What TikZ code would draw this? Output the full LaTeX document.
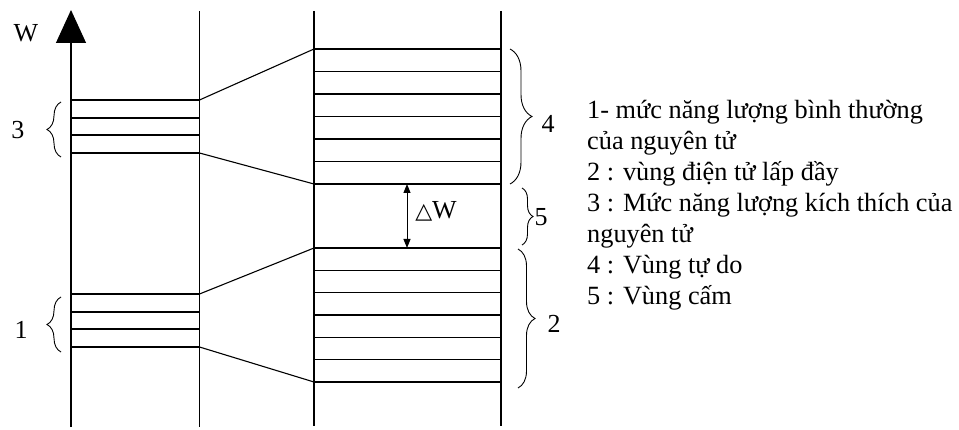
\documentclass[tikz,border=0pt]{standalone}
\usepackage{fontspec}
\setmainfont{Liberation Serif}
\newfontfamily\symfont{DejaVu Sans}
\usetikzlibrary{arrows.meta,decorations.pathreplacing}
\begin{document}
\begin{tikzpicture}[x=1pt,y=-1pt,
  ln/.style={line width=1.1pt},
  lbl/.style={font=\fontsize{26}{31}\selectfont, inner sep=0pt},
  leg/.style={font=\fontsize{26.3}{31}\selectfont, inner sep=0pt, anchor=base west},
  brc/.style={decorate, decoration={brace, amplitude=#1}, line width=0.9pt}]
\useasboundingbox (0,0) rectangle (959,430);
% axis
\coordinate (ax0) at (71,427);
\coordinate (ax1) at (71,10);
\draw[ln,-{Triangle[width=30pt,length=33pt]}] (ax0) -- (ax1);
% vertical lines
\coordinate (b1) at (199.5,11); \coordinate (b2) at (199.5,427);
\coordinate (c1) at (314,11);   \coordinate (c2) at (314,426);
\coordinate (d1) at (501,11);   \coordinate (d2) at (501,426);
\draw[ln] (b1) -- (b2);
\draw[ln] (c1) -- (c2);
\draw[ln] (d1) -- (d2);
% atomic levels 3 and 1
\foreach \y [count=\i] in {100,118,135,153} {
  \coordinate (ta\i) at (71,\y); \coordinate (tb\i) at (199.5,\y);
  \draw[ln] (ta\i) -- (tb\i);
}
\foreach \y [count=\i] in {294,312,329,347} {
  \coordinate (oa\i) at (71,\y); \coordinate (ob\i) at (199.5,\y);
  \draw[ln] (oa\i) -- (ob\i);
}
% bands 4 and 2
\foreach \i in {0,...,6} {
  \coordinate (fa\i) at (314,49+22.5*\i); \coordinate (fb\i) at (501,49+22.5*\i);
  \draw[ln] (fa\i) -- (fb\i);
  \coordinate (ga\i) at (314,248+22.333*\i); \coordinate (gb\i) at (501,248+22.333*\i);
  \draw[ln] (ga\i) -- (gb\i);
}
% connectors
\draw[ln] (tb1) -- (fa0);
\draw[ln] (tb4) -- (fa6);
\draw[ln] (ob1) -- (ga0);
\draw[ln] (ob4) -- (ga6);
% Delta W arrow
\coordinate (dw1) at (407,184); \coordinate (dw2) at (407,248);
\draw[line width=1pt,{Triangle[width=7pt,length=9pt]}-{Triangle[width=7pt,length=9pt]}] (dw1) -- (dw2);
\node[lbl] (dW) at (436,211) {{\symfont\fontsize{22}{22}\selectfont △}W};
% braces
\coordinate (br3a) at (61,157); \coordinate (br3b) at (61,102);
\draw[brc=14] (br3a) -- (br3b);
\coordinate (br1a) at (61,352); \coordinate (br1b) at (61,297);
\draw[brc=14] (br1a) -- (br1b);
\coordinate (br4a) at (510,49); \coordinate (br4b) at (510,184);
\draw[brc=22] (br4a) -- (br4b);
\coordinate (br5a) at (522,188); \coordinate (br5b) at (522,245);
\draw[brc=11] (br5a) -- (br5b);
\coordinate (br2a) at (518,249); \coordinate (br2b) at (518,388);
\draw[brc=17] (br2a) -- (br2b);
% labels
\node[lbl] (W) at (26,33) {W};
\node[lbl] (n3) at (18,130) {3};
\node[lbl] (n1) at (21,330) {1};
\node[lbl] (n4) at (548,124) {4};
\node[lbl] (n5) at (541,217) {5};
\node[lbl] (n2) at (554,324) {2};
% legend
\node[leg] (L1) at (587,119) {1- mức năng lượng bình thường};
\node[leg] (L2) at (587,150) {của nguyên tử};
\node[leg] (L3) at (587,181) {2 : vùng điện tử lấp đầy};
\node[leg] (L4) at (587,212) {3 : Mức năng lượng kích thích của};
\node[leg] (L5) at (587,243) {nguyên tử};
\node[leg] (L6) at (587,274) {4 : Vùng tự do};
\node[leg] (L7) at (587,305) {5 : Vùng cấm};
\end{tikzpicture}
\end{document}
